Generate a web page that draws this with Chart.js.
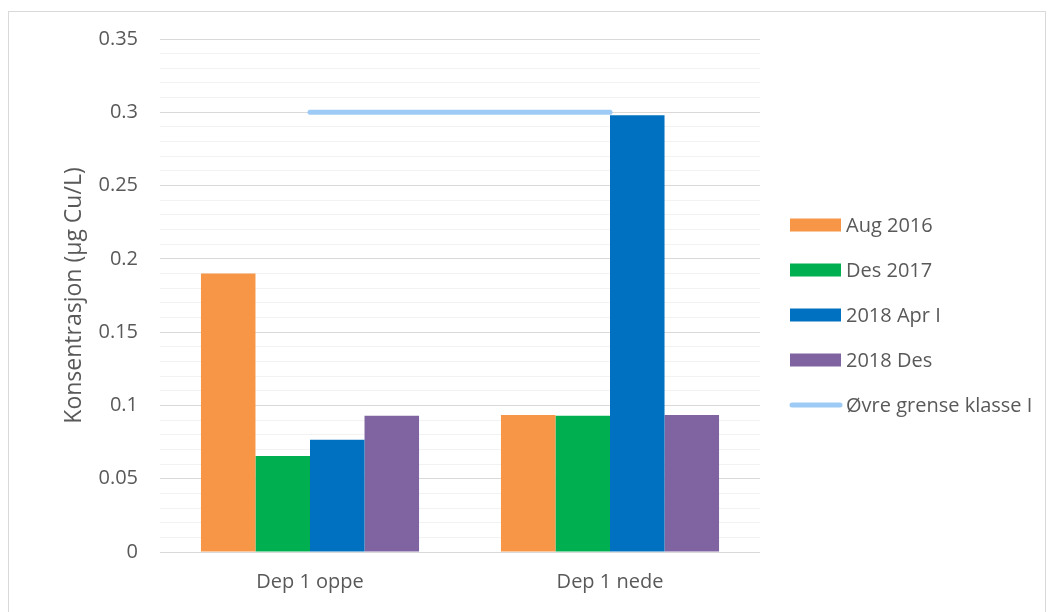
<!DOCTYPE html>
<html>
<head>
<meta charset="utf-8">
<script src="https://cdn.jsdelivr.net/npm/chart.js@4"></script>
<style>
    body { margin: 0; background: #fff; }
    #frame { position: absolute; left: 8px; top: 11px; width: 1036px; height: 620px; border: 1px solid #D9D9D9; }
    #cu { position: absolute; left: 0; top: 0; }
</style>
</head>
<body>
<div id="frame"></div>
<canvas id="cu" width="1055" height="612"></canvas>
<script>
// sampling points
var stations = ['Dep 1 oppe', 'Dep 1 nede'];

// Cu concentration per sampling round (µg Cu/L)
var aug2016 = [0.190, 0.0935];
var des2017 = [0.0655, 0.093];
var apr2018 = [0.0765, 0.298];
var des2018 = [0.093, 0.0935];

// upper limit, class I
var grenseKlasseI = [0.30, 0.30];

var textColor = '#595959';
var font = { family: 'Open Sans', size: 20 };

// legend drawn by hand so the spacing can be set freely
var sideLegend = {
    id: 'sideLegend',
    afterDraw: function (chart) {
        var c = chart.ctx;
        var x = 790, y = 225, step = 45;
        var items = chart.data.datasets.slice().sort(function (a, b) { return a.legendIndex - b.legendIndex; });
        c.save();
        c.font = font.size + 'px ' + font.family;
        c.textBaseline = 'middle';
        items.forEach(function (ds, i) {
            var cy = y + i * step;
            if (ds.type === 'line') {
                c.strokeStyle = ds.borderColor;
                c.lineWidth = ds.borderWidth;
                c.lineCap = 'round';
                c.beginPath();
                c.moveTo(x + 2, cy);
                c.lineTo(x + 50, cy);
                c.stroke();
            } else {
                c.fillStyle = ds.backgroundColor;
                c.fillRect(x, cy - 6.5, 51, 13);
            }
            c.fillStyle = textColor;
            c.fillText(ds.label, x + 56, cy + 1);
        });
        c.restore();
    }
};

var ctx = document.getElementById('cu');

var data = {
    labels: stations,
    datasets: [
        { type: 'bar', label: 'Aug 2016', data: aug2016, backgroundColor: '#F79646', legendIndex: 0 },
        { type: 'bar', label: 'Des 2017', data: des2017, backgroundColor: '#00B050', legendIndex: 1 },
        { type: 'bar', label: '2018 Apr I', data: apr2018, backgroundColor: '#0070C0', legendIndex: 2 },
        { type: 'bar', label: '2018 Des', data: des2018, backgroundColor: '#8064A2', legendIndex: 3 },
        {
            type: 'line', label: 'Øvre grense klasse I', data: grenseKlasseI,
            borderColor: '#9DCBF5', borderWidth: 5, borderCapStyle: 'round',
            pointRadius: 0, order: -1, legendIndex: 4
        }
    ]
};

var config = {
    type: 'bar',
    data: data,
    options: {
        responsive: false,
        devicePixelRatio: 1,
        animation: false,
        layout: { padding: { left: 0, right: 295, top: 39, bottom: 0 } },
        datasets: {
            bar: { categoryPercentage: 0.727, barPercentage: 1.0, borderWidth: 0 }
        },
        plugins: {
            legend: { display: false },
            tooltip: { enabled: false }
        },
        scales: {
            x: {
                grid: { display: false, drawTicks: false },
                border: { display: false },
                ticks: { color: textColor, font: font, padding: 18 }
            },
            y: {
                min: 0,
                max: 0.35,
                afterFit: function (scale) { scale.width = 160; },
                grid: {
                    drawTicks: false,
                    lineWidth: 1,
                    color: function (c) {
                        var v = Math.round(c.tick.value * 100);
                        return v % 5 === 0 ? '#D9D9D9' : '#F2F2F2';
                    }
                },
                border: { display: false },
                ticks: {
                    stepSize: 0.01,
                    autoSkip: false,
                    color: textColor,
                    font: font,
                    padding: 22,
                    callback: function (v) {
                        var n = Math.round(v * 100);
                        return n % 5 === 0 ? String(n / 100) : '';
                    }
                },
                title: {
                    display: true,
                    text: 'Konsentrasjon (µg Cu/L)',
                    color: textColor,
                    font: { family: 'Open Sans', size: 23 },
                    padding: { top: 61, bottom: 0 }
                }
            }
        }
    },
    plugins: [sideLegend]
};

var cuChart = new Chart(ctx, config);
</script>
</body>
</html>
